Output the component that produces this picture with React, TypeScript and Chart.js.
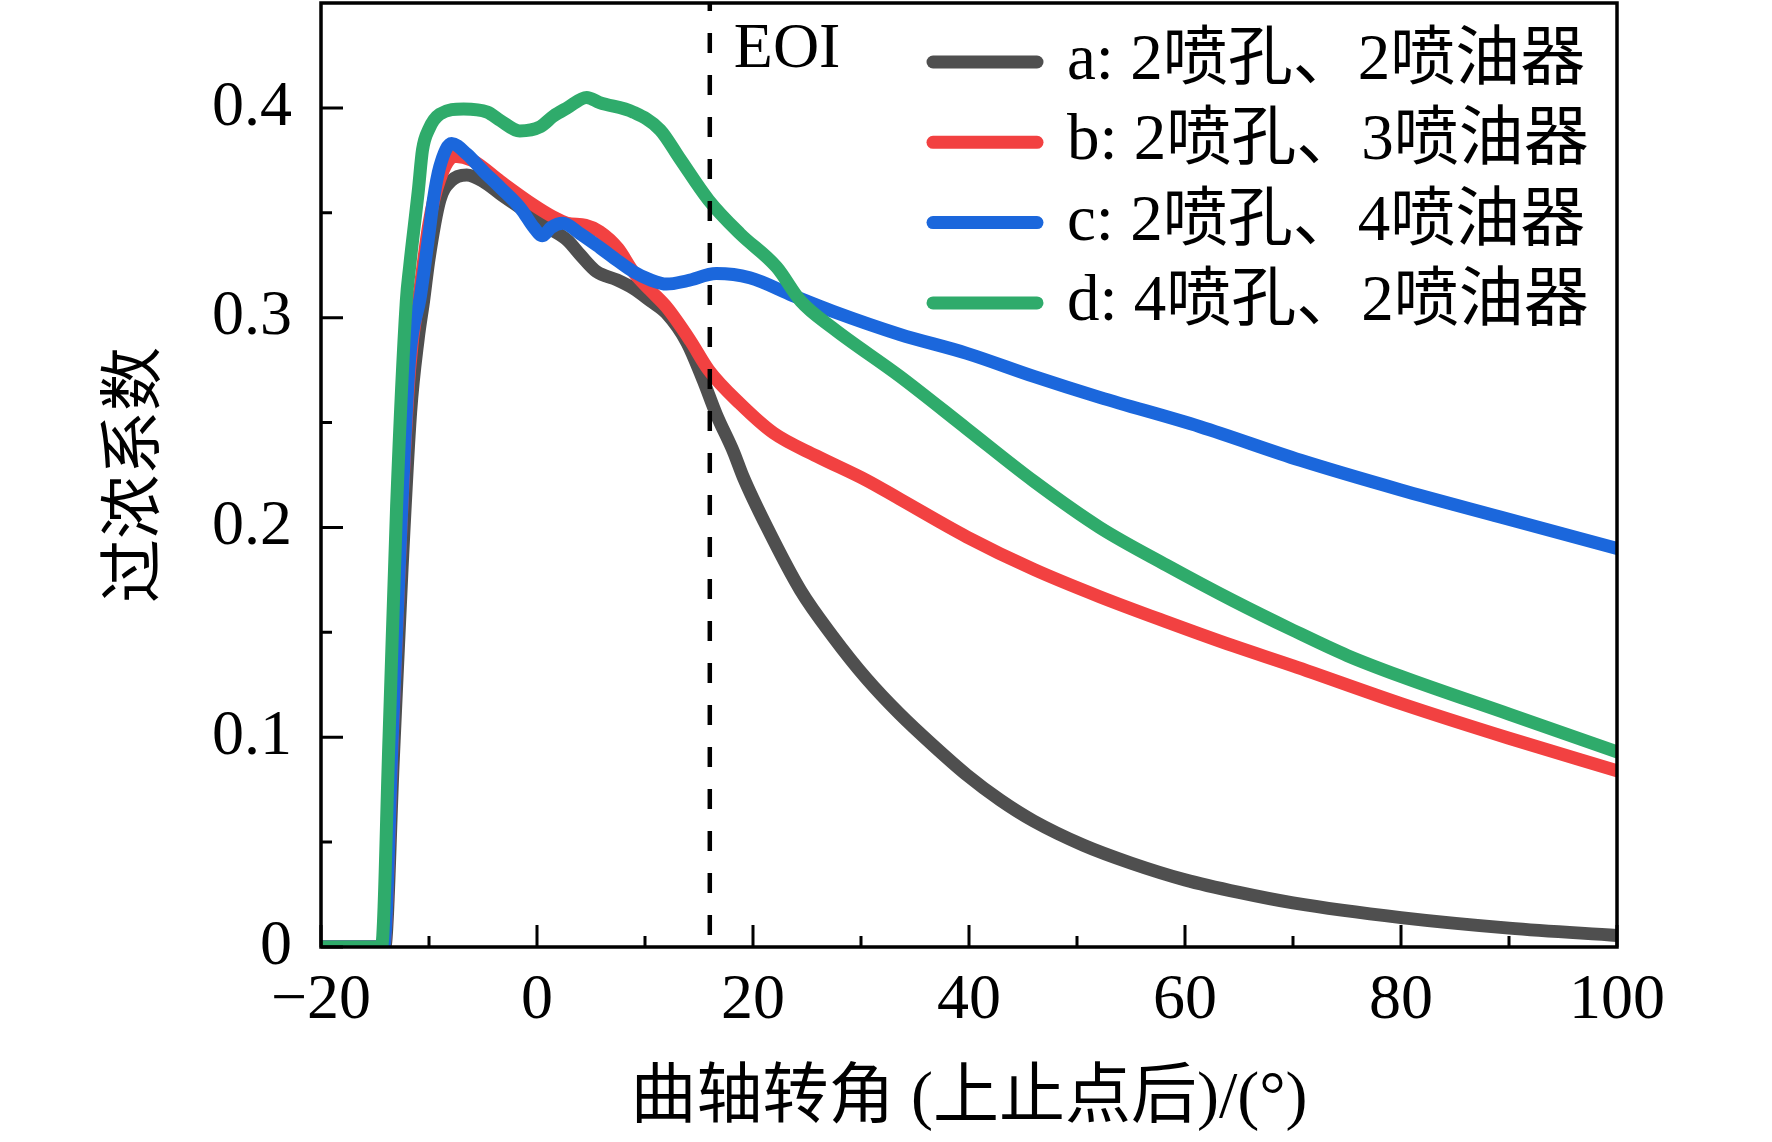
import { useEffect, useRef } from "react";
import { Chart, registerables } from "chart.js";

Chart.register(...registerables);

// crank angle (°ATDC) and excess-fuel coefficient for each case
const seriesLabels = ["a: 2喷孔、2喷油器", "b: 2喷孔、3喷油器", "c: 2喷孔、4喷油器", "d: 4喷孔、2喷油器"];
const seriesColors = ["#4f4f4f", "#f24141", "#1b67dc", "#2fab6b"];

const angleA = [-20, -14.1, -13.3, -12.5, -11.7, -11, -10.5, -10, -9, -8, -6.5, -5, -3.4, -0.9, 1, 2.8, 4, 5.5, 7.4, 8.9, 10.5, 12, 13.9, 15.4, 16.6, 18.2, 19.1, 21.3, 24.4, 27.4, 30.5, 33.6, 36.7, 39.8, 42.9, 46, 50.6, 55, 60, 65, 70, 80, 90, 100];
const valueA = [0, 0, 0.09, 0.18, 0.255, 0.29, 0.308, 0.328, 0.356, 0.365, 0.368, 0.365, 0.359, 0.35, 0.343, 0.337, 0.33, 0.322, 0.318, 0.314, 0.308, 0.302, 0.288, 0.27, 0.254, 0.236, 0.224, 0.2, 0.17, 0.148, 0.128, 0.111, 0.096, 0.082, 0.07, 0.06, 0.0485, 0.04, 0.032, 0.026, 0.021, 0.014, 0.009, 0.0055];

const angleB = [-20, -14.2, -13.4, -12.6, -11.8, -10.8, -10, -9, -7.6, -6, -3.4, -0.4, 1.5, 2.8, 4.5, 5.8, 7.5, 8.9, 10.5, 12, 14.2, 15.9, 18.8, 21.9, 25.9, 30.5, 33.6, 39.8, 46, 52.1, 58.3, 64.5, 70, 80, 90, 100];
const valueB = [0, 0, 0.1, 0.2, 0.275, 0.315, 0.345, 0.366, 0.377, 0.375, 0.365, 0.354, 0.348, 0.345, 0.344, 0.341, 0.333, 0.322, 0.313, 0.305, 0.289, 0.275, 0.259, 0.245, 0.234, 0.2225, 0.2135, 0.1955, 0.18, 0.167, 0.155, 0.1435, 0.134, 0.116, 0.0995, 0.084];

const angleC = [-20, -14.2, -13.4, -12.6, -11.8, -10.8, -10, -9.6, -9, -7.9, -6.5, -5, -3.4, -1.5, -0.3, 0.5, 1.3, 2.4, 4, 5.8, 7.5, 8.9, 10.5, 12, 13.9, 16.6, 19.7, 23.7, 27.4, 33.6, 39.8, 46, 52.1, 61.4, 70.7, 79.9, 89.2, 100];
const valueC = [0, 0, 0.1, 0.2, 0.28, 0.31, 0.34, 0.356, 0.372, 0.383, 0.378, 0.37, 0.362, 0.352, 0.343, 0.339, 0.343, 0.345, 0.34, 0.3335, 0.327, 0.322, 0.318, 0.316, 0.3176, 0.321, 0.319, 0.3105, 0.303, 0.292, 0.283, 0.272, 0.262, 0.248, 0.232, 0.218, 0.205, 0.19];

const angleD = [-20, -14.4, -13.7, -13, -12.1, -11.8, -11, -10.6, -10, -9, -6.8, -4.6, -3.4, -1.6, 0.3, 1.5, 2.8, 4.6, 5.8, 8.9, 11.4, 13.2, 15.9, 18.8, 22.2, 24.4, 27.4, 33.6, 39.8, 46, 52.1, 58.3, 64.5, 70, 75, 80, 90, 100];
const valueD = [0, 0, 0.1, 0.21, 0.308, 0.324, 0.36, 0.38, 0.39, 0.397, 0.3995, 0.398, 0.394, 0.389, 0.391, 0.396, 0.4, 0.405, 0.4025, 0.398, 0.3895, 0.376, 0.356, 0.34, 0.324, 0.308, 0.295, 0.272, 0.247, 0.222, 0.2, 0.182, 0.165, 0.151, 0.139, 0.129, 0.111, 0.093];

const EOI_ANGLE = 16;

const SERIF = '"Liberation Serif", "Noto Sans CJK SC"';

const toPoints = (xs: number[], ys: number[]) => xs.map((x, i) => ({ x, y: ys[i] }));

// inward ticks, EOI marker, frame and legend
const decorPlugin = {
  id: "decor",
  afterDatasetsDraw(chart: any) {
    const { ctx, chartArea, scales } = chart;
    const { left, right, top, bottom } = chartArea;
    const xs = scales.x;
    const ys = scales.y;
    ctx.save();

    // EOI dashed line
    const ex = xs.getPixelForValue(EOI_ANGLE);
    ctx.strokeStyle = "#000";
    ctx.lineWidth = 4.5;
    ctx.setLineDash([20, 22]);
    ctx.lineDashOffset = 12;
    ctx.beginPath();
    ctx.moveTo(ex, top);
    ctx.lineTo(ex, bottom);
    ctx.stroke();
    ctx.setLineDash([]);
    ctx.fillStyle = "#000";
    ctx.font = `64px ${SERIF}`;
    ctx.textBaseline = "middle";
    ctx.textAlign = "left";
    ctx.fillText("EOI", ex + 24, top + 47);

    // ticks
    ctx.lineWidth = 3;
    const xt = xs.ticks.map((t: any) => t.value);
    ctx.beginPath();
    xt.forEach((v: number, i: number) => {
      const p = xs.getPixelForValue(v);
      ctx.moveTo(p, bottom);
      ctx.lineTo(p, bottom - 22);
      if (i < xt.length - 1) {
        const m = xs.getPixelForValue((v + xt[i + 1]) / 2);
        ctx.moveTo(m, bottom);
        ctx.lineTo(m, bottom - 11);
      }
    });
    const yt = ys.ticks.map((t: any) => t.value);
    yt.forEach((v: number, i: number) => {
      const p = ys.getPixelForValue(v);
      ctx.moveTo(left, p);
      ctx.lineTo(left + 22, p);
      const next = i < yt.length - 1 ? yt[i + 1] : v + (yt[1] - yt[0]);
      const mv = (v + next) / 2;
      if (mv < ys.max) {
        const m = ys.getPixelForValue(mv);
        ctx.moveTo(left, m);
        ctx.lineTo(left + 11, m);
      }
    });
    ctx.stroke();

    // frame
    ctx.lineWidth = 3.5;
    ctx.strokeRect(left, top, right - left, bottom - top);

    // legend
    chart.data.datasets.forEach((ds: any, i: number) => {
      const yy = top + 59 + i * 80.3;
      ctx.strokeStyle = ds.borderColor;
      ctx.lineWidth = 13;
      ctx.lineCap = "round";
      ctx.beginPath();
      ctx.moveTo(right - 684, yy);
      ctx.lineTo(right - 580, yy);
      ctx.stroke();
      ctx.fillStyle = "#000";
      ctx.font = `65px ${SERIF}`;
      ctx.fillText(ds.label, right - 550, yy);
    });

    ctx.restore();
  },
};

export default function App() {
  const canvasRef = useRef<HTMLCanvasElement>(null);

  useEffect(() => {
    if (!canvasRef.current) return;
    const ctx = canvasRef.current.getContext("2d");
    if (!ctx) return;

    const series = [
      toPoints(angleA, valueA),
      toPoints(angleB, valueB),
      toPoints(angleC, valueC),
      toPoints(angleD, valueD),
    ];

    const chart = new Chart(ctx, {
      type: "line",
      data: {
        datasets: series.map((pts, i) => ({
          label: seriesLabels[i],
          data: pts,
          borderColor: seriesColors[i],
          backgroundColor: seriesColors[i],
          borderWidth: 13,
          pointRadius: 0,
          borderJoinStyle: "round" as const,
          borderCapStyle: "round" as const,
          cubicInterpolationMode: "monotone" as const,
          clip: 0,
          order: 3 - i,
        })),
      },
      options: {
        animation: false,
        responsive: true,
        maintainAspectRatio: false,
        layout: { padding: { left: 0, right: 155, top: 3, bottom: 0 } },
        plugins: { legend: { display: false }, tooltip: { enabled: false } },
        scales: {
          x: {
            type: "linear",
            min: -20,
            max: 100,
            grid: { display: false, drawTicks: false },
            border: { display: false },
            ticks: {
              stepSize: 20,
              padding: 16,
              color: "#000",
              font: { family: SERIF, size: 64, lineHeight: 1.2 },
              callback: (v: any) => (Number(v) < 0 ? `\u2212${Math.abs(Number(v))}` : `${v}`),
            },
            title: {
              display: true,
              text: "曲轴转角 (上止点后)/(°)",
              color: "#000",
              font: { family: SERIF, size: 66, lineHeight: 1.2 },
              padding: { top: 0, bottom: 3 },
            },
            afterFit: (scale: any) => {
              scale.height = 195;
              scale.paddingLeft = 0;
              scale.paddingRight = 0;
            },
          },
          y: {
            type: "linear",
            min: 0,
            max: 0.45,
            grid: { display: false, drawTicks: false },
            border: { display: false },
            ticks: {
              stepSize: 0.1,
              includeBounds: false,
              padding: 29,
              color: "#000",
              font: { family: SERIF, size: 64, lineHeight: 1.2 },
            },
            title: {
              display: true,
              text: "过浓系数",
              color: "#000",
              font: { family: SERIF, size: 64, lineHeight: 1.2 },
              padding: { top: 99, bottom: 0 },
            },
            afterFit: (scale: any) => {
              scale.width = 321;
              scale.paddingTop = 0;
              scale.paddingBottom = 0;
            },
          },
        },
      },
      plugins: [decorPlugin],
    });

    return () => chart.destroy();
  }, []);

  return (
    <div style={{ position: "fixed", left: 0, top: 0, width: 1772, height: 1142, background: "#fff" }}>
      <canvas ref={canvasRef} />
    </div>
  );
}
